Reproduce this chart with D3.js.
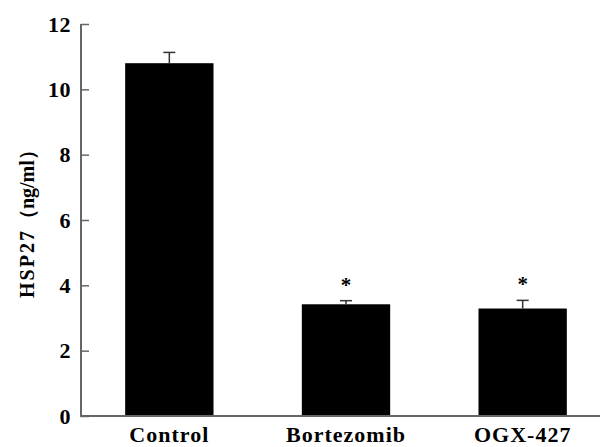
<!DOCTYPE html>
<html>
<head>
<meta charset="utf-8">
<script src="https://cdn.jsdelivr.net/npm/d3@7"></script>
<style>
  body { margin: 0; background: #fff; }
</style>
</head>
<body>
<div id="chart"></div>
<script>
// data
var groups = ["Control", "Bortezomib", "OGX-427"];
var means = [10.8, 3.42, 3.29];
var errors = [0.33, 0.11, 0.25];
var marks = ["", "*", "*"];
var yTicks = [0, 2, 4, 6, 8, 10, 12];

var width = 600, height = 447;
var serif = "'Liberation Serif', 'Times New Roman', serif";

var svg = d3.select("#chart").append("svg")
    .attr("width", width)
    .attr("height", height)
    .style("font-family", serif)
    .style("font-weight", "bold");

// scales
var x = d3.scaleBand()
    .domain(groups)
    .range([81, 611])
    .paddingInner(0.5)
    .paddingOuter(0.25);

var y = d3.scaleLinear()
    .domain([0, 12])
    .range([416, 24]);

// bars
svg.selectAll(".bar")
    .data(groups)
    .enter().append("rect")
    .attr("class", "bar")
    .attr("x", d => x(d))
    .attr("width", x.bandwidth())
    .attr("y", (d, i) => y(means[i]))
    .attr("height", (d, i) => y(0) - y(means[i]))
    .attr("fill", "#000");

// error bars (upper only) + significance stars
var capW = 6;
groups.forEach(function (g, i) {
    var cx = x(g) + x.bandwidth() / 2;
    var top = y(means[i] + errors[i]);
    svg.append("line")
        .attr("x1", cx).attr("x2", cx)
        .attr("y1", y(means[i])).attr("y2", top)
        .attr("stroke", "#333").attr("stroke-width", 1.5);
    svg.append("line")
        .attr("x1", cx - capW).attr("x2", cx + capW)
        .attr("y1", top).attr("y2", top)
        .attr("stroke", "#333").attr("stroke-width", 1.5);
    if (marks[i]) {
        svg.append("text")
            .attr("x", cx)
            .attr("y", top - 9)
            .attr("text-anchor", "middle")
            .style("font-size", "21px")
            .text(marks[i]);
    }
});

// y axis, ticks pointing inward
var yAxis = svg.append("g")
    .attr("transform", "translate(81,0)")
    .call(d3.axisRight(y).tickValues(yTicks).tickSize(8).tickFormat(""));
yAxis.select(".domain").remove();
yAxis.selectAll("line").attr("stroke", "#666").attr("stroke-width", 1.5);

svg.append("line")
    .attr("x1", 81).attr("x2", 81)
    .attr("y1", y(12)).attr("y2", y(0))
    .attr("stroke", "#666").attr("stroke-width", 2);

svg.selectAll(".ylab")
    .data(yTicks)
    .enter().append("text")
    .attr("class", "ylab")
    .attr("x", 71)
    .attr("y", d => y(d))
    .attr("dy", "0.35em")
    .attr("text-anchor", "end")
    .style("font-size", "22px")
    .style("letter-spacing", "0.5px")
    .text(d => d);

// x axis
svg.append("line")
    .attr("x1", 80).attr("x2", width)
    .attr("y1", y(0)).attr("y2", y(0))
    .attr("stroke", "#666").attr("stroke-width", 2);

svg.selectAll(".xlab")
    .data(groups)
    .enter().append("text")
    .attr("class", "xlab")
    .attr("x", d => x(d) + x.bandwidth() / 2)
    .attr("y", 442)
    .attr("text-anchor", "middle")
    .style("font-size", "22px")
    .style("letter-spacing", "1px")
    .text(d => d);

// y axis title
var title = svg.append("text")
    .attr("transform", "translate(34,298) rotate(-90)")
    .attr("text-anchor", "start")
    .style("font-size", "20px");
title.append("tspan").style("letter-spacing", "2px").text("HSP27");
title.append("tspan").text("（ng/ml）");
</script>
</body>
</html>
